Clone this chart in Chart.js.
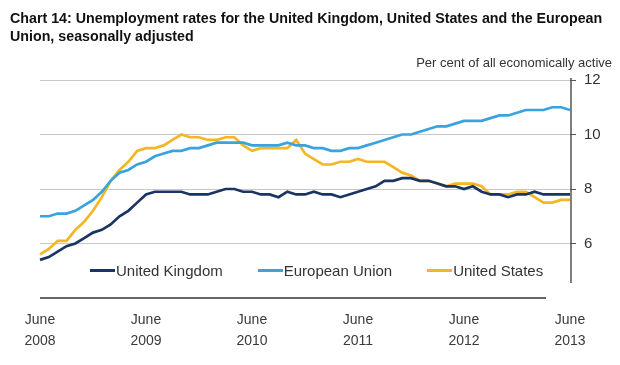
<!DOCTYPE html>
<html>
<head>
<meta charset="utf-8">
<script src="https://cdn.jsdelivr.net/npm/chart.js@4.4.0/dist/chart.umd.min.js"></script>
<style>
    html, body { margin: 0; padding: 0; background: #fff; }
    #wrap { position: relative; width: 620px; height: 365px; font-family: "Liberation Sans", Arial, sans-serif; }
    #title { position: absolute; left: 10px; top: 9px; font-size: 14.25px; font-weight: bold; line-height: 18px; color: #111; }
    #unit { position: absolute; right: 8px; top: 55px; font-size: 13px; color: #333; }
    #legend { position: absolute; left: 90px; top: 262px; display: flex; font-size: 15px; color: #333; }
    #legend .item { display: flex; align-items: center; margin-right: 35px; }
    #legend .swatch { width: 25px; height: 3px; margin-right: 1px; }
    canvas { position: absolute; left: 0; top: 0; }
</style>
</head>
<body>
<div id="wrap">
    <canvas id="unempChart" width="620" height="365"></canvas>
    <div id="title">Chart 14: Unemployment rates for the United Kingdom, United States and the European<br>Union, seasonally adjusted</div>
    <div id="unit">Per cent of all economically active</div>
    <div id="legend"></div>
</div>
<script>
// Mois : juin 2008 -> juin 2013
const monthNames = ['Jan', 'Feb', 'Mar', 'Apr', 'May', 'June', 'Jul', 'Aug', 'Sep', 'Oct', 'Nov', 'Dec'];
const months = [];
for (let y = 2008; y <= 2013; y++) {
    for (let m = 0; m < 12; m++) {
        if ((y === 2008 && m < 5) || (y === 2013 && m > 5)) continue;
        months.push(monthNames[m] + ' ' + y);
    }
}

const ukRate = [5.4, 5.5, 5.7, 5.9, 6.0, 6.2, 6.4, 6.5, 6.7, 7.0, 7.2, 7.5,
    7.8, 7.9, 7.9, 7.9, 7.9, 7.8, 7.8, 7.8, 7.9, 8.0, 8.0, 7.9,
    7.9, 7.8, 7.8, 7.7, 7.9, 7.8, 7.8, 7.9, 7.8, 7.8, 7.7, 7.8,
    7.9, 8.0, 8.1, 8.3, 8.3, 8.4, 8.4, 8.3, 8.3, 8.2, 8.1, 8.1,
    8.0, 8.1, 7.9, 7.8, 7.8, 7.7, 7.8, 7.8, 7.9, 7.8, 7.8, 7.8, 7.8];

const euRate = [7.0, 7.0, 7.1, 7.1, 7.2, 7.4, 7.6, 7.9, 8.3, 8.6, 8.7, 8.9,
    9.0, 9.2, 9.3, 9.4, 9.4, 9.5, 9.5, 9.6, 9.7, 9.7, 9.7, 9.7,
    9.6, 9.6, 9.6, 9.6, 9.7, 9.6, 9.6, 9.5, 9.5, 9.4, 9.4, 9.5,
    9.5, 9.6, 9.7, 9.8, 9.9, 10.0, 10.0, 10.1, 10.2, 10.3, 10.3, 10.4,
    10.5, 10.5, 10.5, 10.6, 10.7, 10.7, 10.8, 10.9, 10.9, 10.9, 11.0, 11.0, 10.9];

const usRate = [5.6, 5.8, 6.1, 6.1, 6.5, 6.8, 7.2, 7.7, 8.3, 8.7, 9.0, 9.4,
    9.5, 9.5, 9.6, 9.8, 10.0, 9.9, 9.9, 9.8, 9.8, 9.9, 9.9, 9.6,
    9.4, 9.5, 9.5, 9.5, 9.5, 9.8, 9.3, 9.1, 8.9, 8.9, 9.0, 9.0,
    9.1, 9.0, 9.0, 9.0, 8.8, 8.6, 8.5, 8.3, 8.3, 8.2, 8.1, 8.2,
    8.2, 8.2, 8.1, 7.8, 7.8, 7.8, 7.9, 7.9, 7.7, 7.5, 7.5, 7.6, 7.6];

const yTicks = [6, 8, 10, 12];

const series = [
    { label: 'United Kingdom', data: ukRate, color: '#1b3563' },
    { label: 'European Union', data: euRate, color: '#3aa3de' },
    { label: 'United States', data: usRate, color: '#f2b722' }
];

// Axes tronqués comme dans l'original
const axisLines = {
    id: 'axisLines',
    afterDraw(chart) {
        const { ctx, chartArea } = chart;
        ctx.save();
        ctx.strokeStyle = '#555';
        ctx.lineWidth = 1.5;
        ctx.beginPath();
        ctx.moveTo(chartArea.right + 1, chartArea.top - 2);
        ctx.lineTo(chartArea.right + 1, chartArea.bottom - 15);
        ctx.stroke();
        ctx.strokeStyle = '#333';
        ctx.beginPath();
        ctx.moveTo(chartArea.left, chartArea.bottom);
        ctx.lineTo(chartArea.right - 24, chartArea.bottom);
        ctx.stroke();
        ctx.restore();
    }
};

const ctx = document.getElementById('unempChart');
new Chart(ctx, {
    type: 'line',
    data: {
        labels: months,
        datasets: series.map(s => ({
            label: s.label,
            data: s.data,
            borderColor: s.color,
            backgroundColor: s.color,
            borderWidth: 2.7,
            pointRadius: 0,
            tension: 0,
            fill: false
        }))
    },
    options: {
        responsive: false,
        animation: false,
        layout: { padding: { top: 80, left: 40, right: 0, bottom: 0 } },
        plugins: {
            legend: { display: false },
            tooltip: { enabled: false }
        },
        scales: {
            x: {
                offset: false,
                grid: { display: false, drawTicks: false },
                border: { display: false },
                afterFit: scale => { scale.height = 67; },
                ticks: {
                    autoSkip: false,
                    maxRotation: 0,
                    padding: 11,
                    color: '#3a3a3a',
                    font: { family: 'Liberation Sans', size: 14, lineHeight: 1.55 },
                    callback: function (value, index) {
                        const lbl = months[index];
                        return lbl.startsWith('June') ? ['June', lbl.split(' ')[1]] : '';
                    }
                }
            },
            y: {
                position: 'right',
                min: 4,
                max: 12,
                afterBuildTicks: scale => {
                    scale.ticks = [4].concat(yTicks).map(v => ({ value: v }));
                },
                afterFit: scale => { scale.width = 50; },
                border: { display: false },
                grid: {
                    color: c => (c.tick && c.tick.value === 4 ? 'rgba(0,0,0,0)' : '#c8c8c8'),
                    tickColor: c => (c.tick && c.tick.value === 4 ? 'rgba(0,0,0,0)' : '#555'),
                    tickLength: 6,
                    lineWidth: 1
                },
                ticks: {
                    padding: 8,
                    color: '#333',
                    font: { family: 'Liberation Sans', size: 15 },
                    callback: v => (v === 4 ? '' : v)
                }
            }
        }
    },
    plugins: [axisLines]
});

// Légende HTML à l'intérieur du graphique
const legendEl = document.getElementById('legend');
series.forEach(s => {
    const item = document.createElement('div');
    item.className = 'item';
    item.innerHTML = '<span class="swatch" style="background:' + s.color + '"></span><span>' + s.label + '</span>';
    legendEl.appendChild(item);
});
</script>
</body>
</html>
